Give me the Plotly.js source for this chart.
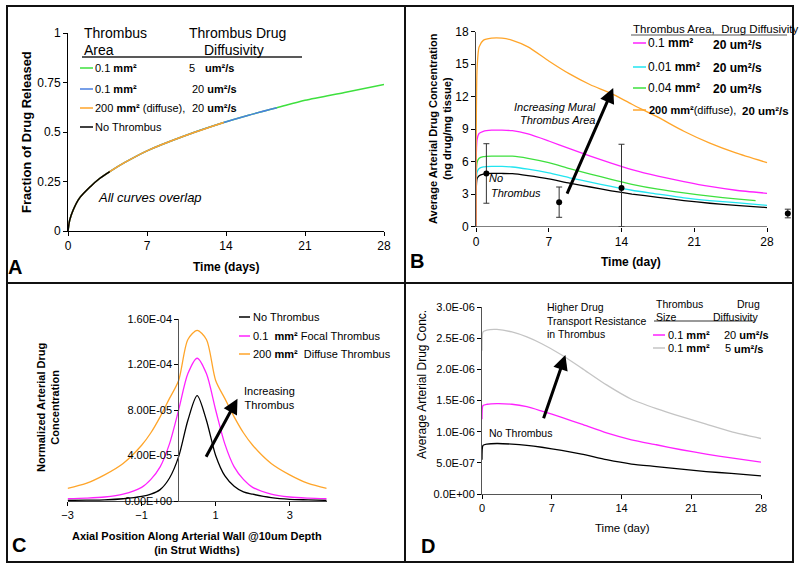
<!DOCTYPE html>
<html><head><meta charset="utf-8">
<script src="https://cdn.plot.ly/plotly-3.0.1.min.js"></script>
<style>html,body{margin:0;padding:0;background:#fff}</style>
</head><body><div id="chart" style="width:800px;height:569px"></div>
<script>
// ---------- Panel A: fraction of drug released ----------
const timeA = [0, 0.15, 0.45, 1, 2, 2.8, 3.7, 5, 7, 10.3, 13.8, 16, 18.5, 21, 24.5, 28];
const fracA = [0, 0.055, 0.105, 0.165, 0.225, 0.265, 0.30, 0.345, 0.405, 0.48, 0.548, 0.585, 0.622, 0.66, 0.70, 0.74];
// number of points each overlapping curve shows (drawn last = on top)
const seriesA = ["0.1 mm² / 5 um²/s", "0.1 mm² / 20 um²/s", "200 mm² diffuse / 20 um²/s", "No Thrombus"];
const countA = [16, 13, 11, 7];
const colorsA = ["#3ee03e", "#4a7fe0", "#ffa52a", "#000000"];
const ticksA_x = [0, 7, 14, 21, 28];
const ticksA_y = [0, 0.25, 0.5, 0.75, 1];

// ---------- Panel B: average arterial drug concentration ----------
const timeB = [0, 0.1, 0.3, 0.7, 1.5, 2.5, 3.5, 5, 7, 9, 11, 13, 15, 17.5, 20, 22.5, 25, 28];
const concB_noThrombus = [0, 4.4, 4.7, 4.85, 4.9, 4.9, 4.88, 4.7, 4.4, 4.0, 3.65, 3.3, 3.0, 2.7, 2.4, 2.15, 1.95, 1.75];
const concB_001 = [0, 5.0, 5.35, 5.5, 5.55, 5.55, 5.5, 5.3, 4.95, 4.5, 4.1, 3.7, 3.35, 3.0, 2.65, 2.4, 2.2, 1.95];
const timeB_004 = [0, 0.1, 0.3, 0.7, 1.5, 2.5, 3.5, 5, 7, 9, 11, 13, 15, 17.5, 20, 22.5, 25, 26.9];
const concB_004 = [0, 5.9, 6.3, 6.45, 6.5, 6.5, 6.5, 6.3, 5.9, 5.35, 4.85, 4.35, 3.9, 3.45, 3.1, 2.8, 2.55, 2.4];
const concB_01 = [0, 8.0, 8.6, 8.8, 8.9, 8.9, 8.85, 8.55, 7.9, 7.2, 6.5, 5.85, 5.25, 4.65, 4.15, 3.7, 3.35, 3.07];
const concB_200 = [0, 14.5, 16.6, 17.2, 17.4, 17.4, 17.2, 16.6, 15.3, 14.1, 13.1, 12.3, 11.3, 10.1, 8.8, 7.7, 6.8, 5.9];
const expTimeB = [1, 8, 14, 30];
const expConcB = [4.9, 2.25, 3.55, 1.2];
const expErrPlusB = [2.75, 1.4, 4.05, 0.4];
const expErrMinusB = [2.75, 1.4, 3.55, 0.4];
const ticksB_x = [0, 7, 14, 21, 28];
const ticksB_y = [0, 3, 6, 9, 12, 15, 18];

// ---------- Panel C: normalized concentration profile ----------
const posC = [-3, -2.5, -2, -1.5, -1, -0.75, -0.5, -0.25, 0, 0.25, 0.5, 0.75, 1, 1.25, 1.5, 1.75, 2, 2.5, 3, 3.5, 4];
const concC_none = [5e-7, 7e-7, 1e-6, 2e-6, 4e-6, 6e-6, 1.0e-5, 2.0e-5, 3.9e-5, 7.1e-5, 9.26e-5, 7.1e-5, 4.0e-5, 2.2e-5, 1.3e-5, 8e-6, 6e-6, 3e-6, 1.5e-6, 1e-6, 5e-7];
const concC_focal = [2e-6, 2.5e-6, 3.5e-6, 6e-6, 1.2e-5, 1.9e-5, 3.0e-5, 5.0e-5, 8.0e-5, 1.12e-4, 1.255e-4, 1.12e-4, 8.0e-5, 5.0e-5, 3.0e-5, 1.9e-5, 1.2e-5, 6e-6, 3.5e-6, 2.5e-6, 2e-6];
const concC_diffuse = [1.12e-5, 1.55e-5, 2.3e-5, 3.3e-5, 4.9e-5, 6.0e-5, 7.4e-5, 9.0e-5, 1.06e-4, 1.42e-4, 1.5e-4, 1.42e-4, 1.06e-4, 9.0e-5, 7.4e-5, 6.0e-5, 4.9e-5, 3.3e-5, 2.3e-5, 1.55e-5, 1.12e-5];
const ticksC_x = [-3, -1, 1, 3];
const ticksC_y = [0, 4e-5, 8e-5, 1.2e-4, 1.6e-4];
const tickTextC_y = ["0.00E+00", "4.00E-05", "8.00E-05", "1.20E-04", "1.60E-04"];

// ---------- Panel D: average arterial drug conc ----------
const timeD = [0, 0.1, 0.5, 1.5, 3, 4.5, 6, 8, 10, 12.5, 15, 17.5, 20, 22.5, 25, 28];
const concD_none = [5.5e-7, 7.8e-7, 8.0e-7, 8.1e-7, 8.0e-7, 7.8e-7, 7.5e-7, 7.0e-7, 6.4e-7, 5.5e-7, 4.8e-7, 4.4e-7, 4.0e-7, 3.6e-7, 3.3e-7, 2.9e-7];
const concD_20 = [1.2e-6, 1.42e-6, 1.44e-6, 1.45e-6, 1.44e-6, 1.40e-6, 1.33e-6, 1.23e-6, 1.12e-6, 9.8e-7, 8.7e-7, 7.9e-7, 7.1e-7, 6.4e-7, 5.8e-7, 5.1e-7];
const concD_5 = [2.3e-6, 2.6e-6, 2.63e-6, 2.64e-6, 2.6e-6, 2.52e-6, 2.41e-6, 2.23e-6, 2.02e-6, 1.75e-6, 1.52e-6, 1.37e-6, 1.24e-6, 1.12e-6, 1.0e-6, 8.9e-7];
const ticksD_x = [0, 7, 14, 21, 28];
const ticksD_y = [0, 5e-7, 1e-6, 1.5e-6, 2e-6, 2.5e-6, 3e-6];
const tickTextD_y = ["0.0E+00", "5.0E-07", "1.0E-06", "1.5E-06", "2.0E-06", "2.5E-06", "3.0E-06"];

// ---------- helpers ----------
const W = 800, H = 569, FONT = "Liberation Sans, Arial, sans-serif";
const px = x => x / W, py = y => 1 - y / H;
function ann(text, x, y, size, o) {
  o = o || {};
  return Object.assign({xref: "paper", yref: "paper", x: px(x), y: py(y), text: text, showarrow: false,
    xanchor: "left", yanchor: "middle", font: {family: FONT, size: size, color: "black"}}, o);
}
function seg(x0, y0, x1, y1, color, width) {
  return {type: "line", xref: "paper", yref: "paper", x0: px(x0), y0: py(y0), x1: px(x1), y1: py(y1),
    line: {color: color, width: width || 1.5}};
}
function axis(o) {
  return Object.assign({showgrid: false, zeroline: false, showline: true, linecolor: "black", linewidth: 1,
    ticks: "outside", ticklen: 4, tickcolor: "black", tickfont: {family: FONT, size: 12, color: "black"}, fixedrange: true}, o);
}
function line(x, y, ax, color, smooth) {
  return {x: x, y: y, xaxis: "x" + ax, yaxis: "y" + ax, mode: "lines",
    line: {color: color, width: 1.3, shape: "spline", smoothing: smooth}};
}

const traces = [];
// A
for (let i = 0; i < seriesA.length; i++) {
  traces.push({x: timeA.slice(0, countA[i]), y: fracA.slice(0, countA[i]), xaxis: "x", yaxis: "y", mode: "lines",
    name: seriesA[i], line: {color: colorsA[i], width: 1.5, shape: "spline", smoothing: 0.8}});
}
// B
traces.push(line(timeB, concB_noThrombus, 2, "#000", 0.6));
traces.push(line(timeB, concB_001, 2, "#22e5f0", 0.6));
traces.push(line(timeB_004, concB_004, 2, "#3ee03e", 0.6));
traces.push(line(timeB, concB_01, 2, "#ff22ff", 0.6));
traces.push(line(timeB, concB_200, 2, "#ffa52a", 0.6));
traces.push({x: expTimeB, y: expConcB, xaxis: "x2", yaxis: "y2", mode: "markers", marker: {color: "#000", size: 6},
  error_y: {type: "data", symmetric: false, array: expErrPlusB, arrayminus: expErrMinusB, color: "#333", thickness: 1, width: 3}});
// C
traces.push(line(posC, concC_diffuse, 3, "#ffa52a", 0.8));
traces.push(line(posC, concC_focal, 3, "#ff22ff", 0.8));
traces.push(line(posC, concC_none, 3, "#000", 0.8));
// D
traces.push(line(timeD, concD_5, 4, "#c4c4c4", 0.6));
traces.push(line(timeD, concD_20, 4, "#ff22ff", 0.6));
traces.push(line(timeD, concD_none, 4, "#000", 0.6));

const annotations = [
  // panel letters
  ann("<b>A</b>", 15, 267, 20, {xanchor: "center"}),
  ann("<b>B</b>", 417, 261, 20, {xanchor: "center"}),
  ann("<b>C</b>", 19, 545, 20, {xanchor: "center"}),
  ann("<b>D</b>", 428, 546, 20, {xanchor: "center"}),
  // A titles & legend
  ann("<b>Fraction of Drug Released</b>", 26, 132, 13, {xanchor: "center", textangle: -90}),
  ann("<b>Time (days)</b>", 226, 267, 12, {xanchor: "center"}),
  ann("Thrombus", 82, 33, 14), ann("Area", 82, 50, 14),
  ann("Thrombus Drug", 187, 33, 14), ann("Diffusivity", 202, 50, 14),
  ann("0.1 <b>mm²</b>", 93, 68, 11), ann("0.1 <b>mm²</b>", 93, 89, 11),
  ann("200 <b>mm²</b> (diffuse),", 93, 108, 11), ann("No Thrombus", 93, 127, 11),
  ann("5", 187, 68, 11), ann("<b>um²/s</b>", 203, 68, 11),
  ann("20 <b>um²/s</b>", 190, 89, 11), ann("20 <b>um²/s</b>", 190, 108, 11),
  ann("<i>All curves overlap</i>", 96, 197, 13),
  // B titles & legend
  ann("<b>Average Arterial Drug Concentration<br>(ng drug/mg tissue)</b>", 440, 129, 11, {xanchor: "center", textangle: -90}),
  ann("<b>Time (day)</b>", 631, 262, 12, {xanchor: "center"}),
  ann("Thrombus Area,  Drug Diffusivity", 631, 29, 11.5),
  ann("0.1 <b>mm²</b>", 646, 43, 12), ann("0.01 <b>mm²</b>", 646, 67, 12),
  ann("0.04 <b>mm²</b>", 646, 88, 12), ann("<b>200 mm²</b>(diffuse),", 647, 110, 11),
  ann("<b>20 um²/s</b>", 711, 45, 12), ann("<b>20 um²/s</b>", 711, 68, 12),
  ann("<b>20 um²/s</b>", 711, 89, 12), ann("<b>20 um²/s</b>", 740, 111, 11.5),
  ann("<i>Increasing Mural</i>", 555, 107, 11, {xanchor: "center"}),
  ann("<i>Thrombus Area</i>", 557, 120, 11, {xanchor: "center"}),
  ann("<i>No</i>", 487, 178, 11), ann("<i>Thrombus</i>", 489, 193, 11),
  // C titles & legend
  ann("<b>Normalized Arterial Drug<br>Concentration</b>", 48, 408, 11, {xanchor: "center", textangle: -90}),
  ann("<b>Axial Position Along Arterial Wall @10um Depth<br>(in Strut Widths)</b>", 197, 543, 11, {xanchor: "center"}),
  ann("No Thrombus", 251, 317, 11), ann("0.1  <b>mm²</b> Focal Thrombus", 251, 336, 11),
  ann("200 <b>mm²</b>  Diffuse Thrombus", 251, 354, 11),
  ann("Increasing<br>Thrombus", 242, 398, 11),
  // D titles & legend
  ann("Average Arterial Drug Conc.", 422, 385, 12, {xanchor: "center", textangle: -90}),
  ann("Time (day)", 622, 528, 11.5, {xanchor: "center"}),
  ann("Higher Drug<br>Transport Resistance<br>in Thrombus", 545, 320, 10.5, {align: "left"}),
  ann("No Thrombus", 487, 433, 10.5),
  ann("Thrombus", 654, 304, 10.5), ann("Size", 654, 317, 10.5),
  ann("Drug", 735, 304, 10.5), ann("Diffusivity", 711, 317, 10.5),
  ann("0.1 <b>mm²</b>", 666, 335, 11), ann("0.1 <b>mm²</b>", 666, 348, 11),
  ann("20 <b>um²/s</b>", 722, 335, 11), ann("5", 723, 348, 11), ann("<b>um²/s</b>", 732, 349, 11),
  // arrows
  {xref: "x2", yref: "y2", axref: "x2", ayref: "y2", x: 13.2, y: 12.8, ax: 8.7, ay: 2.9, text: "", showarrow: true,
    arrowhead: 2, arrowsize: 1, arrowwidth: 3, arrowcolor: "black", standoff: 0},
  {xref: "x3", yref: "y3", axref: "x3", ayref: "y3", x: 1.59, y: 9.0e-5, ax: 0.72, ay: 3.76e-5, text: "", showarrow: true,
    arrowhead: 2, arrowsize: 1, arrowwidth: 3, arrowcolor: "black", standoff: 0},
  {xref: "x4", yref: "y4", axref: "x4", ayref: "y4", x: 8.37, y: 2.23e-6, ax: 6.13, ay: 1.19e-6, text: "", showarrow: true,
    arrowhead: 2, arrowsize: 1, arrowwidth: 3, arrowcolor: "black", standoff: 0}
];

const shapes = [
  // frame
  {type: "rect", xref: "paper", yref: "paper", x0: px(7), x1: px(793), y0: py(562), y1: py(6), line: {color: "#111", width: 2}},
  seg(405, 6, 405, 562, "#111", 2), seg(7, 283, 793, 283, "#111", 2),
  // A legend
  seg(82, 57, 302, 57, "#222", 1.5),
  seg(80, 68, 93, 68, colorsA[0]), seg(80, 89, 93, 89, colorsA[1]),
  seg(80, 108, 93, 108, colorsA[2]), seg(80, 127, 93, 127, colorsA[3]),
  // B legend
  seg(631, 35, 787, 35, "#555", 1),
  seg(633, 43, 646, 43, "#ff22ff"), seg(633, 67, 646, 67, "#22e5f0"),
  seg(633, 88, 646, 88, "#3ee03e"), seg(633, 110, 646, 110, "#ffa52a"),
  {type: "line", xref: "x2", yref: "y2", x0: 0, x1: 28, y0: 0, y1: 0, line: {color: "#000", width: 1}},
  // C legend
  seg(239, 317, 250, 317, "#000"), seg(239, 336, 250, 336, "#ff22ff"), seg(239, 354, 250, 354, "#ffa52a"),
  // D legend
  seg(654, 321, 755, 321, "#999", 2),
  seg(653, 335, 665, 335, "#ff22ff"), seg(653, 348, 665, 348, "#c4c4c4")
];

const layout = {
  width: W, height: H, margin: {l: 0, r: 0, t: 0, b: 0}, showlegend: false,
  paper_bgcolor: "white", plot_bgcolor: "white", font: {family: FONT, color: "black"},
  xaxis: axis({domain: [px(68), px(384)], range: [0, 28], tickvals: ticksA_x, anchor: "y"}),
  yaxis: axis({domain: [py(231), py(33)], range: [0, 1], tickvals: ticksA_y, anchor: "x"}),
  xaxis2: axis({domain: [px(476), px(793)], range: [0, 30.5], tickvals: ticksB_x, anchor: "y2", showline: false}),
  yaxis2: axis({domain: [py(226.5), py(31.7)], range: [0, 18], tickvals: ticksB_y, anchor: "x2", linecolor: "#444"}),
  xaxis3: axis({domain: [px(67.6), px(326.7)], range: [-3, 4], tickvals: ticksC_x, anchor: "y3", linecolor: "#444",
    tickfont: {family: FONT, size: 11, color: "black"}}),
  yaxis3: axis({domain: [py(501), py(319)], range: [0, 1.6e-4], tickvals: ticksC_y, ticktext: tickTextC_y,
    anchor: "free", position: px(178.3), linecolor: "#555", tickfont: {family: FONT, size: 11, color: "black"}}),
  xaxis4: axis({domain: [px(482), px(761)], range: [0, 28], tickvals: ticksD_x, anchor: "y4", linecolor: "#555",
    tickfont: {family: FONT, size: 11, color: "black"}}),
  yaxis4: axis({domain: [py(494), py(307)], range: [0, 3e-6], tickvals: ticksD_y, ticktext: tickTextD_y, anchor: "x4",
    linecolor: "#555", tickfont: {family: FONT, size: 11, color: "black"}}),
  annotations: annotations, shapes: shapes
};
Plotly.newPlot("chart", traces, layout, {staticPlot: true, displayModeBar: false});
</script></body></html>
